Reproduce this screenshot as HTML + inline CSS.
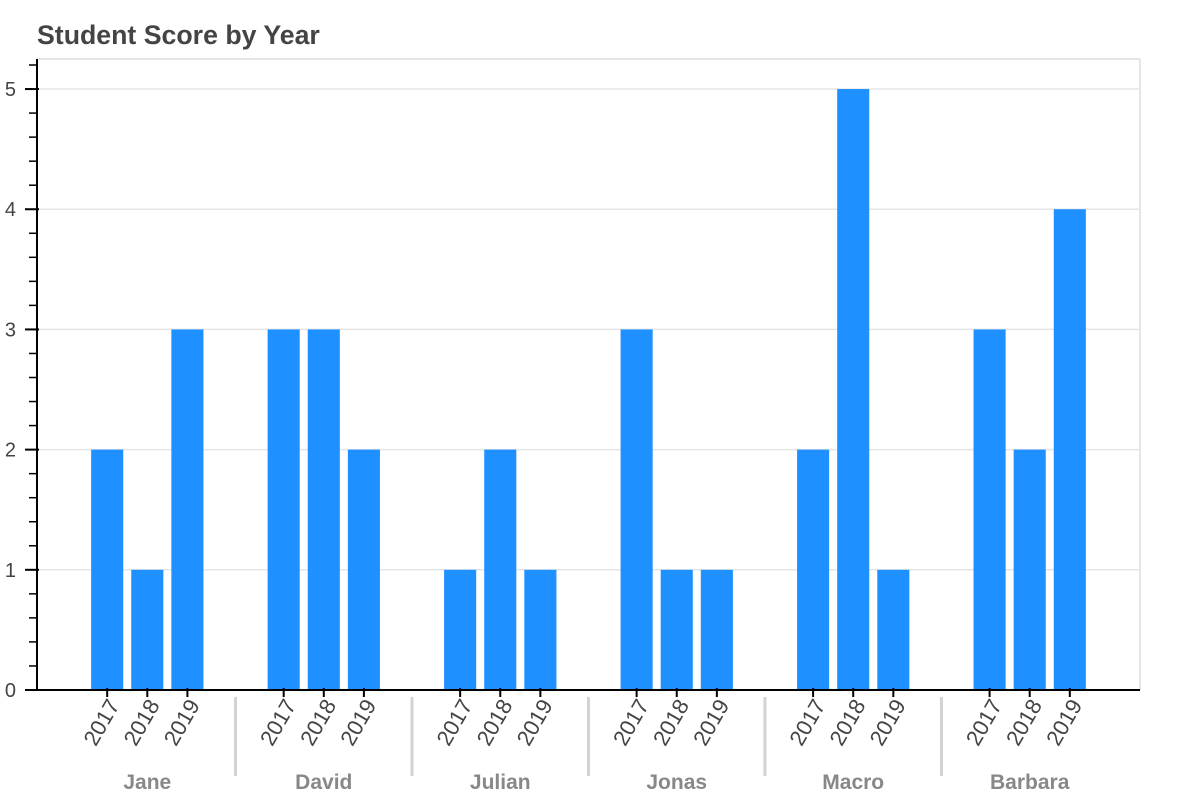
<!DOCTYPE html>
<html><head><meta charset="utf-8"><style>
html,body{margin:0;padding:0;background:#fff;}
svg{display:block;font-family:"Liberation Sans",Helvetica,Arial,sans-serif;}
</style></head><body>
<svg id="chart" width="1200" height="800" viewBox="0 0 1200 800">
<text x="37" y="44" font-size="26.7" font-weight="bold" fill="#444">Student Score by Year</text>
<g id="grid"></g><g id="bars"></g><g id="axes"></g>
</svg>
<script>
const students = ["Jane","David","Julian","Jonas","Macro","Barbara"];
const years = ["2017","2018","2019"];
const scores = [[2,1,3],[3,3,2],[1,2,1],[3,1,1],[2,5,1],[3,2,4]];
const yTicks = [0,1,2,3,4,5];

const NS="http://www.w3.org/2000/svg";
const L=37,R=1140,T=59,B=690;
const yMax=5.25;
function y(v){return B-(v/yMax)*(B-T);}
const nF=students.length*years.length, gp=1.4;
const units=nF-1+(students.length-1)*gp;
const unit=(R-L)/(units+3.5);
function x(gi,yi){return L+1.75*unit+(gi*years.length+yi+gi*gp)*unit;}
function el(tag,attrs,parent,text){const e=document.createElementNS(NS,tag);for(const k in attrs)e.setAttribute(k,attrs[k]);if(text!==undefined)e.textContent=text;parent.appendChild(e);return e;}
const grid=document.getElementById('grid'),bars=document.getElementById('bars'),axes=document.getElementById('axes');
el('line',{x1:L,x2:R,y1:T,y2:T,stroke:'#e5e5e5','stroke-width':2},grid);
el('line',{x1:R,x2:R,y1:T,y2:B,stroke:'#e5e5e5','stroke-width':2},grid);
yTicks.forEach(t=>{if(t>0){const g=el('line',{x1:L,x2:R,y1:y(t),y2:y(t),stroke:'#e5e5e5','stroke-width':1.5},grid);

}});
students.forEach((s,gi)=>{years.forEach((yr,yi)=>{
 const cx=x(gi,yi),v=scores[gi][yi];
 const r=el('rect',{x:cx-0.4*unit,y:y(v),width:0.8*unit,height:B-y(v),fill:'#1e90ff'},bars);
 
 
 el('line',{x1:cx,x2:cx,y1:B-2,y2:B+7,stroke:'#000','stroke-width':2},axes);
 const t=el('text',{transform:`translate(${cx+8},${B+12}) rotate(-60)`,'text-anchor':'end','dominant-baseline':'middle','font-size':22,fill:'#444'},axes,yr);
 
 
});
 const gc=x(gi,1);
 const gl=el('text',{x:gc,y:789,'text-anchor':'middle','font-size':21,'font-weight':'bold',fill:'#888'},axes,s);
 
 
 if(gi>0){const sx=(x(gi-1,2)+x(gi,0))/2;
 const sep=el('line',{x1:sx,x2:sx,y1:697,y2:776,stroke:'#d3d3d3','stroke-width':3},axes);
 
 }
});
el('line',{x1:L,x2:L,y1:T,y2:B+1,stroke:'#000','stroke-width':2},axes);
el('line',{x1:L-1,x2:R,y1:B,y2:B,stroke:'#000','stroke-width':2},axes);
for(let m=0;m<=26;m++){const v=m*0.2;if(v>yMax)break;if(m%5)el('line',{x1:L-8,x2:L,y1:y(v),y2:y(v),stroke:'#000','stroke-width':1.5},axes);}
yTicks.forEach(t=>{el('line',{x1:L-12,x2:L+2,y1:y(t),y2:y(t),stroke:'#000','stroke-width':2},axes);
 const lb=el('text',{x:16,y:y(t)+7,'text-anchor':'end','font-size':20,fill:'#444'},axes,String(t));
 
 });
</script>
</body></html>
